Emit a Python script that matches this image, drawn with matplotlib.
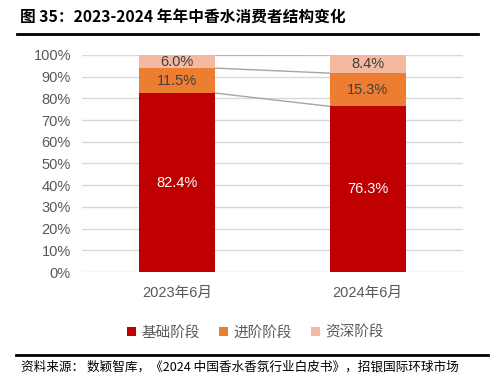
import numpy as np
import matplotlib.pyplot as plt

plt.rcParams['font.family'] = ['Liberation Sans', 'Noto Sans CJK SC', 'DejaVu Sans']

categories = ["2023年6月", "2024年6月"]
series_names = ["基础阶段", "进阶阶段", "资深阶段"]
basic = [82.4, 76.3]
advanced = [11.5, 15.3]
senior = [6.0, 8.4]
yticks = [0, 10, 20, 30, 40, 50, 60, 70, 80, 90, 100]

colors = ["#C00000", "#ED7D31", "#F4B9A0"]
label_colors = ["white", "#404040", "#404040"]

fig = plt.figure(figsize=(4.98, 3.92), dpi=100)
ax = fig.add_axes([0.1647, 0.306, 0.765, 0.554])

x = np.arange(len(categories))
w = 0.4
bottom = np.zeros(len(categories))
tops = []
for vals, c, lc, name in zip([basic, advanced, senior], colors, label_colors, series_names):
    vals = np.array(vals)
    ax.bar(x, vals, w, bottom=bottom, color=c, label=name, zorder=3)
    for xi, b, v in zip(x, bottom, vals):
        ax.text(xi, b + v / 2, f"{v:.1f}%", ha="center", va="center",
                color=lc, fontsize=10.5, zorder=4)
    bottom = bottom + vals
    tops.append(bottom.copy())

# connector lines between the two bars
for t in tops:
    ax.plot([x[0] + w / 2, x[1] - w / 2], [min(t[0], 100), min(t[1], 100)],
            color="#A6A6A6", lw=1, zorder=2)

ax.set_xlim(-0.5, 1.5)
ax.set_ylim(0, 100)
ax.set_yticks(yticks)
ax.set_yticklabels([f"{v}%" for v in yticks], color="#595959", fontsize=10.5)
ax.set_xticks(x)
ax.set_xticklabels(categories, color="#595959", fontsize=10.5)
ax.tick_params(length=0, pad=8)
ax.tick_params(axis="x", pad=10)
ax.yaxis.grid(True, color="#D9D9D9", lw=1, zorder=0)
for s in ax.spines.values():
    s.set_visible(False)

leg = ax.legend(loc="upper center", bbox_to_anchor=(0.455, -0.185), ncol=3, frameon=False,
                handlelength=0.6, handleheight=0.6, handletextpad=0.4, columnspacing=1.3,
                prop={"family": "Noto Sans CJK SC", "size": 10.5})
for t in leg.get_texts():
    t.set_color("#595959")

fig.text(0.04, 0.957, "图 35：2023-2024 年年中香水消费者结构变化", fontsize=11.3,
         fontweight="bold", family=["Noto Sans CJK SC"], va="center")
fig.add_artist(plt.Line2D([0.034, 0.96], [0.913, 0.913], color="black", lw=2))
fig.add_artist(plt.Line2D([0.032, 0.98], [0.094, 0.094], color="black", lw=2))
fig.text(0.042, 0.063, "资料来源： 数颖智库，《2024 中国香水香氛行业白皮书》，招银国际环球市场",
         fontsize=9.1, family=["Noto Sans CJK SC"], va="center")

fig.savefig("out.png", dpi=100)
